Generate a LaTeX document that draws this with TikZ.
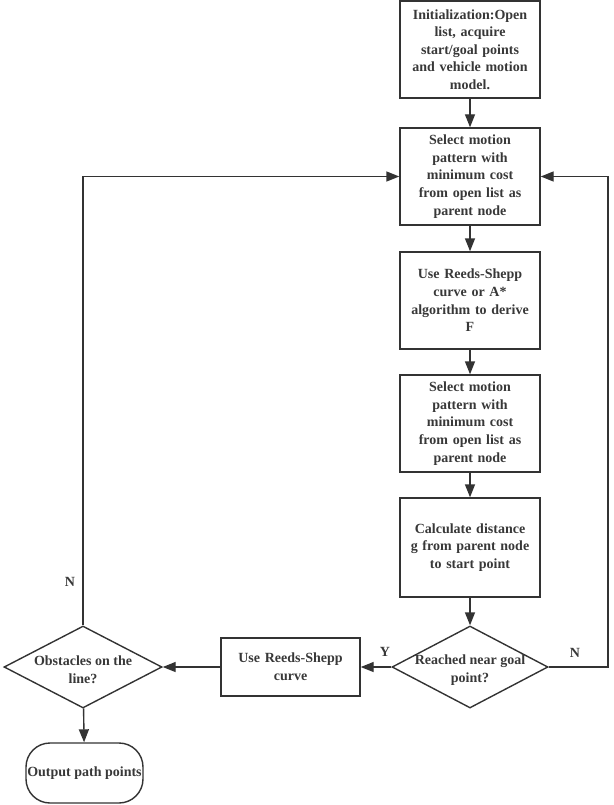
\documentclass[tikz,border=0pt]{standalone}
\usepackage{fontspec}
\setmainfont{Liberation Serif}
\usetikzlibrary{arrows.meta, shapes.geometric}

\begin{document}
\begin{tikzpicture}[x=1pt, y=-1pt,
  font=\bfseries\fontsize{14}{17.6}\selectfont, text=black!78,
  box/.style={draw=black!80, line width=1.4pt, align=center, text width=124pt, minimum width=140pt, minimum height=97pt, inner sep=0pt},
  decision/.style={draw=black!80, line width=1.4pt, diamond, minimum width=156pt, minimum height=82pt, inner sep=0pt},
  flow/.style={draw=black!80, line width=1.4pt, -{Triangle[length=13pt, width=10pt]}}]
\useasboundingbox (0,0) rectangle (613,805);
\node[box] (init) at (470,49.5) {Initialization:Open\\list, acquire\\start/goal points\\and vehicle motion\\model.};
\node[box] (sel1) at (470,176.5) {Select motion\\pattern with\\minimum cost\\from open list as\\parent node};
\node[box] (deriv) at (470,300.5) {Use Reeds-Shepp\\curve or A*\\algorithm to derive\\F};
\node[box] (sel2) at (470,423.5) {Select motion\\pattern with\\minimum cost\\from open list as\\parent node};
\node[box, minimum height=99pt] (dist) at (470,547.5) {Calculate distance\\g from parent node\\to start point};
\node[decision, label={[align=center, yshift=-3pt]center:Reached near goal\\point?}] (reach) at (470,667) {};
\node[box, minimum width=139pt, minimum height=58pt] (rs) at (290.5,667) {Use Reeds-Shepp\\curve};
\node[decision, minimum width=158pt, label={[align=center, yshift=-3pt]center:Obstacles on the\\line?}] (obst) at (83,667) {};
\node[draw=black!80, line width=1.4pt, rounded corners=24pt, minimum width=117pt, minimum height=60pt, inner sep=0pt] (out) at (84.5,773) {Output path points};
\coordinate (back) at (608,667);
\draw[flow] (init) -- (sel1);
\draw[flow] (sel1) -- (deriv);
\draw[flow] (deriv) -- (sel2);
\draw[flow] (sel2) -- (dist);
\draw[flow] (dist) -- (reach);
\draw[flow] (reach) -- (rs);
\draw[flow] (rs) -- (obst);
\draw[flow] (obst) -- (out);
\draw[flow] (reach.east) -- (back) |- (sel1.east);
\draw[flow] (obst.north) |- (sel1.west);
\node (nright) at (575,653) {N};
\node (yes) at (385,652) {Y};
\node (nleft) at (70,582) {N};
\end{tikzpicture}
\end{document}
